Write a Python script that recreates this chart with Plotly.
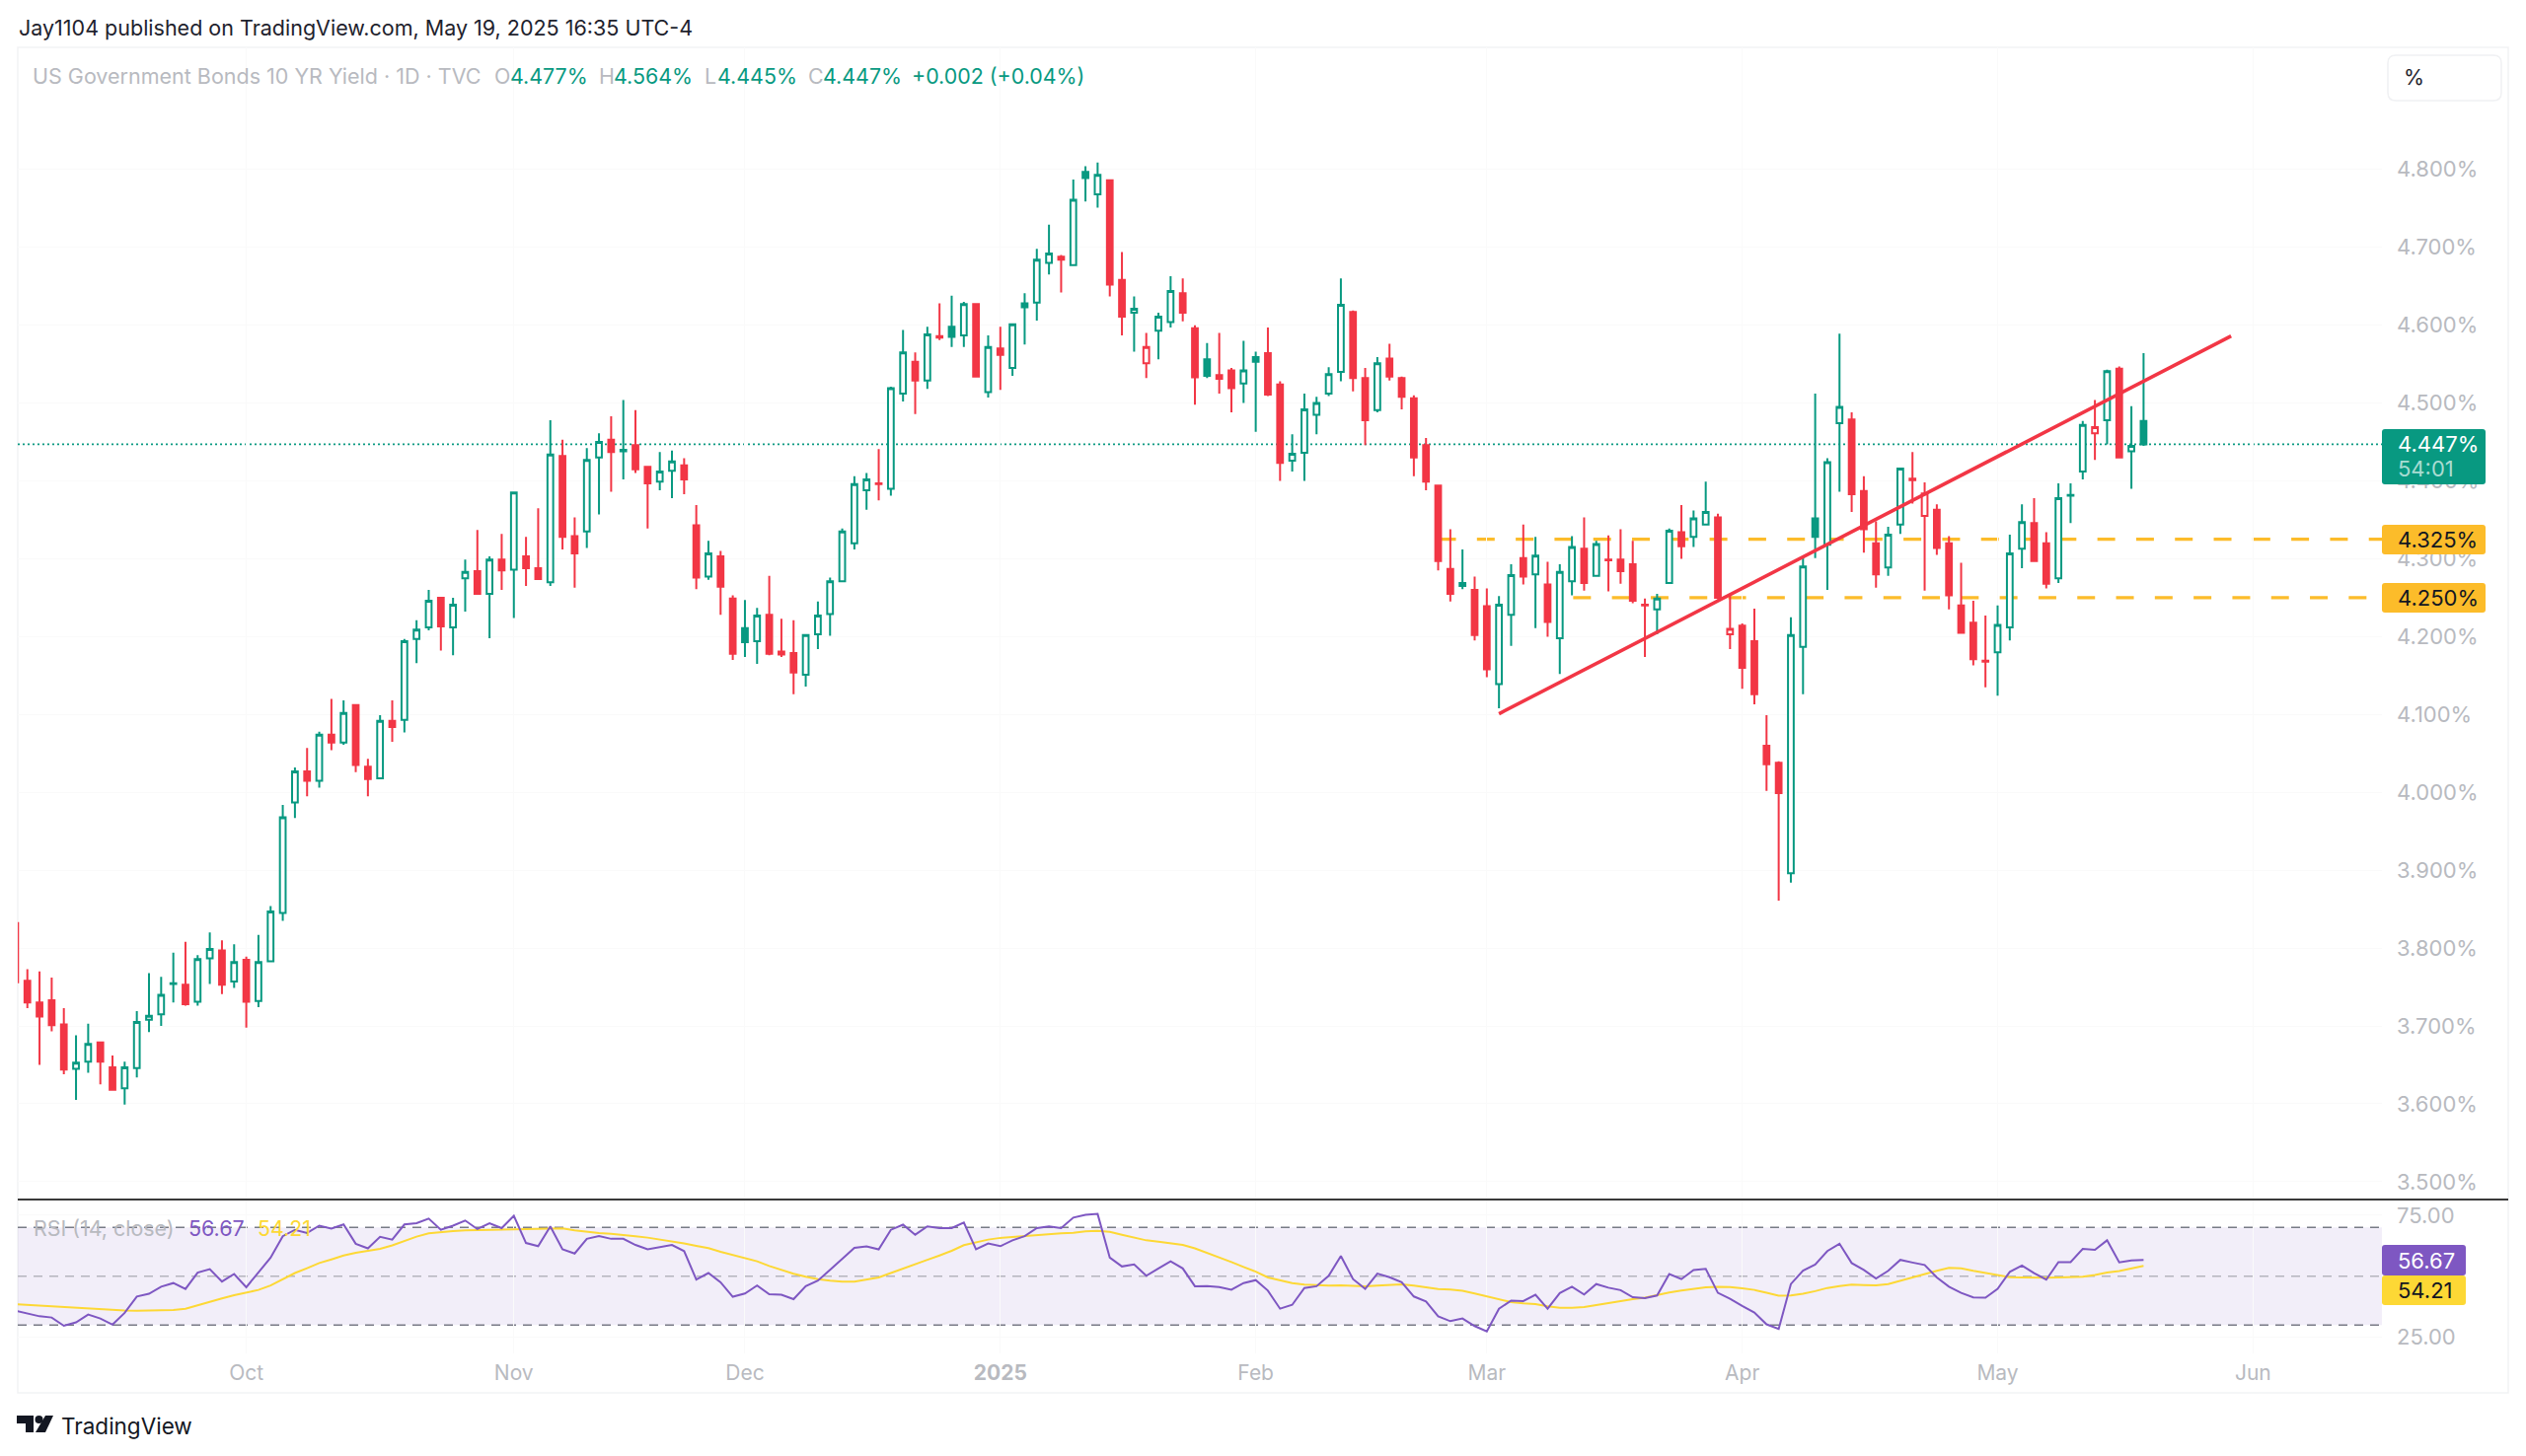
import numpy as np
import plotly.graph_objects as go

# US 10Y yield, daily candles (first one is cut by the left edge)
OPENS = [
    3.832,3.758,3.730,3.733,3.702,3.645,3.654,3.679,3.647,3.620,
    3.646,3.708,3.715,3.754,3.753,3.731,3.787,3.797,3.757,3.785,
    3.732,3.783,3.845,3.987,4.027,4.015,4.074,4.064,4.112,4.033,
    4.018,4.092,4.093,4.197,4.212,4.250,4.212,4.275,4.284,4.255,
    4.299,4.286,4.303,4.288,4.270,4.432,4.329,4.335,4.430,4.453,
    4.440,4.446,4.418,4.399,4.413,4.420,4.343,4.277,4.303,4.249,
    4.211,4.194,4.228,4.181,4.179,4.151,4.203,4.229,4.271,4.320,
    4.388,4.397,4.390,4.512,4.553,4.529,4.586,4.598,4.587,4.627,
    4.514,4.570,4.545,4.628,4.629,4.680,4.688,4.677,4.797,4.768,
    4.786,4.658,4.616,4.551,4.593,4.604,4.641,4.596,4.556,4.536,
    4.542,4.525,4.559,4.564,4.524,4.426,4.436,4.485,4.512,4.540,
    4.617,4.532,4.491,4.557,4.532,4.506,4.446,4.394,4.287,4.265,
    4.260,4.239,4.139,4.228,4.301,4.280,4.267,4.198,4.271,4.313,
    4.278,4.299,4.299,4.293,4.241,4.235,4.269,4.334,4.328,4.344,
    4.353,4.203,4.214,4.194,4.060,4.038,3.896,4.187,4.352,4.318,
    4.474,4.479,4.387,4.320,4.289,4.344,4.403,4.355,4.363,4.320,
    4.240,4.218,4.169,4.180,4.212,4.313,4.346,4.320,4.275,4.381,
    4.412,4.461,4.478,4.544,4.438,4.477,
]
HIGHS = [
    3.832,3.773,3.770,3.762,3.723,3.688,3.703,3.679,3.662,3.654,
    3.719,3.768,3.763,3.794,3.808,3.791,3.820,3.810,3.805,3.789,
    3.817,3.854,3.984,4.032,4.057,4.078,4.120,4.118,4.112,4.043,
    4.099,4.118,4.197,4.221,4.260,4.250,4.250,4.299,4.337,4.303,
    4.332,4.386,4.328,4.365,4.478,4.453,4.353,4.442,4.461,4.483,
    4.504,4.491,4.418,4.437,4.439,4.429,4.369,4.323,4.310,4.253,
    4.247,4.237,4.278,4.223,4.221,4.202,4.245,4.276,4.339,4.406,
    4.410,4.441,4.521,4.594,4.565,4.598,4.628,4.638,4.630,4.627,
    4.587,4.598,4.602,4.641,4.698,4.729,4.690,4.787,4.804,4.809,
    4.787,4.694,4.637,4.590,4.616,4.663,4.660,4.600,4.577,4.590,
    4.545,4.580,4.566,4.597,4.528,4.460,4.512,4.508,4.546,4.660,
    4.619,4.545,4.559,4.576,4.534,4.510,4.455,4.394,4.338,4.312,
    4.277,4.262,4.252,4.293,4.344,4.328,4.296,4.293,4.329,4.353,
    4.323,4.330,4.338,4.323,4.249,4.255,4.339,4.369,4.362,4.399,
    4.358,4.255,4.217,4.236,4.099,4.040,4.225,4.302,4.512,4.429,
    4.589,4.488,4.406,4.348,4.341,4.417,4.437,4.398,4.370,4.329,
    4.295,4.246,4.227,4.240,4.331,4.370,4.378,4.334,4.397,4.397,
    4.477,4.504,4.543,4.547,4.496,4.564,
]
LOWS = [
    3.756,3.723,3.650,3.693,3.638,3.605,3.640,3.625,3.618,3.599,
    3.634,3.692,3.700,3.730,3.726,3.726,3.754,3.741,3.749,3.698,
    3.724,3.783,3.835,3.967,3.995,4.006,4.054,4.061,4.026,3.995,
    4.018,4.065,4.077,4.166,4.208,4.182,4.176,4.232,4.255,4.198,
    4.260,4.224,4.265,4.274,4.265,4.312,4.263,4.314,4.357,4.386,
    4.402,4.410,4.339,4.388,4.378,4.383,4.261,4.273,4.228,4.170,
    4.174,4.165,4.176,4.174,4.126,4.136,4.184,4.201,4.270,4.312,
    4.363,4.375,4.381,4.502,4.486,4.518,4.581,4.572,4.572,4.534,
    4.507,4.517,4.535,4.575,4.606,4.665,4.642,4.677,4.759,4.751,
    4.637,4.587,4.566,4.532,4.556,4.597,4.605,4.498,4.532,4.512,
    4.488,4.500,4.463,4.509,4.400,4.412,4.400,4.460,4.509,4.528,
    4.515,4.446,4.488,4.529,4.492,4.406,4.388,4.285,4.245,4.261,
    4.195,4.148,4.108,4.188,4.267,4.211,4.200,4.152,4.253,4.259,
    4.278,4.258,4.268,4.243,4.174,4.203,4.269,4.300,4.315,4.343,
    4.248,4.184,4.133,4.113,4.002,3.861,3.884,4.126,4.301,4.260,
    4.386,4.360,4.308,4.263,4.278,4.332,4.371,4.259,4.305,4.235,
    4.204,4.163,4.135,4.124,4.195,4.288,4.297,4.262,4.269,4.346,
    4.402,4.427,4.447,4.430,4.390,4.445,
]
CLOSES = [
    3.756,3.730,3.712,3.701,3.644,3.653,3.677,3.654,3.618,3.647,
    3.705,3.713,3.740,3.755,3.728,3.786,3.799,3.753,3.782,3.731,
    3.782,3.847,3.968,4.027,4.015,4.074,4.064,4.102,4.035,4.017,
    4.092,4.084,4.194,4.209,4.246,4.213,4.241,4.283,4.255,4.299,
    4.285,4.385,4.288,4.274,4.434,4.328,4.307,4.427,4.450,4.437,
    4.438,4.415,4.397,4.412,4.425,4.402,4.276,4.307,4.264,4.178,
    4.193,4.227,4.178,4.177,4.154,4.202,4.227,4.271,4.335,4.396,
    4.402,4.396,4.519,4.565,4.529,4.588,4.584,4.585,4.627,4.534,
    4.572,4.562,4.601,4.623,4.684,4.692,4.684,4.761,4.789,4.793,
    4.652,4.611,4.621,4.572,4.611,4.644,4.616,4.533,4.535,4.531,
    4.519,4.542,4.553,4.511,4.423,4.435,4.492,4.500,4.537,4.626,
    4.532,4.478,4.551,4.534,4.508,4.430,4.399,4.297,4.255,4.269,
    4.202,4.158,4.241,4.279,4.277,4.304,4.219,4.283,4.315,4.269,
    4.319,4.298,4.284,4.246,4.240,4.249,4.336,4.316,4.352,4.360,
    4.250,4.210,4.160,4.126,4.036,3.999,4.202,4.290,4.328,4.424,
    4.495,4.383,4.338,4.280,4.331,4.416,4.401,4.384,4.314,4.253,
    4.205,4.171,4.168,4.215,4.307,4.347,4.297,4.268,4.378,4.382,
    4.472,4.469,4.541,4.430,4.445,4.447,
]

# RSI(14) and its moving average, one value per candle
RSI = [
    35.9,34.7,33.6,33.1,29.7,31.1,34.3,32.7,30.2,35.0,
    41.7,42.8,45.7,47.2,44.8,51.5,52.9,47.8,50.9,45.5,
    51.5,57.6,66.4,69.0,67.7,70.7,69.5,71.2,63.3,61.4,
    66.1,65.0,71.2,71.7,73.6,69.0,70.7,72.8,69.3,71.7,
    69.7,74.7,63.6,62.3,70.4,61.0,59.3,65.3,66.4,65.3,
    65.3,62.8,61.0,62.0,62.8,60.3,48.6,51.3,47.5,41.6,
    42.9,46.2,42.6,42.4,40.6,45.9,48.2,52.6,57.2,61.6,
    62.2,61.0,69.0,71.1,67.0,70.4,69.7,69.7,72.0,61.0,
    63.4,62.3,64.7,66.4,69.7,70.4,69.7,74.0,75.1,75.5,
    57.6,54.0,54.8,50.2,53.2,56.1,53.2,45.9,46.0,45.6,
    44.5,47.2,48.4,44.1,36.7,38.3,45.2,45.9,50.2,58.3,
    48.8,44.8,51.1,49.6,47.5,41.7,39.7,33.6,31.6,32.7,
    29.6,27.4,36.7,40.0,39.8,42.4,36.7,43.1,45.7,42.5,
    46.8,45.3,44.3,41.4,41.0,42.1,50.9,48.8,52.5,53.0,
    43.2,40.8,37.8,35.1,30.3,28.4,46.8,52.3,54.8,60.3,
    63.3,55.4,52.6,49.1,52.2,56.7,55.6,54.6,49.5,45.7,
    43.2,41.3,41.2,44.8,51.8,54.4,51.3,48.6,55.8,55.8,
    61.2,60.8,64.7,55.7,56.5,56.67,
]
RSI_MA = [
    38.6,38.3,37.9,37.7,37.4,37.1,37.0,36.7,36.2,36.0,
    35.9,35.9,35.9,36.2,36.7,38.2,39.4,40.9,42.2,43.2,
    44.4,46.2,48.7,51.3,53.3,55.4,56.9,58.5,59.6,60.3,
    61.2,62.6,64.5,66.2,67.6,68.2,68.5,68.8,68.9,69.0,
    69.0,69.2,69.3,69.3,69.6,69.6,68.8,68.1,67.7,67.4,
    67.0,66.4,65.8,65.0,64.5,63.4,62.4,61.5,60.0,58.7,
    57.5,56.1,54.2,52.5,51.0,49.8,48.8,48.2,47.8,47.8,
    48.6,49.5,51.3,53.2,54.9,56.7,58.5,60.4,62.7,63.9,
    65.0,65.7,66.1,66.4,67.0,67.4,67.6,67.8,68.4,68.6,
    68.2,67.0,65.7,64.7,64.1,63.5,62.8,61.4,59.6,57.7,
    55.8,53.8,51.9,49.5,48.2,47.2,46.6,46.3,46.2,46.3,
    46.2,45.9,46.2,46.4,46.7,46.2,45.5,44.8,44.5,44.0,
    42.9,41.7,40.5,39.4,38.9,38.6,37.7,37.1,37.1,37.4,
    38.2,39.1,40.0,40.6,41.2,42.4,43.3,44.1,44.8,45.5,
    45.7,45.6,45.1,44.4,43.2,42.0,42.1,42.8,43.9,45.2,
    46.0,46.6,46.4,46.3,46.8,48.2,49.5,50.9,52.2,53.4,
    53.2,52.2,51.3,50.3,49.6,49.5,49.4,49.4,49.5,49.5,
    49.8,50.5,51.5,52.1,53.2,54.21,
]

MONTH_POS = [19, 41, 60, 81, 102, 121, 142, 163, 184]
MONTH_LABELS = ["Oct", "Nov", "Dec", "<b>2025</b>", "Feb", "Mar", "Apr", "May", "Jun"]
PRICE_TICKS = [3.5, 3.6, 3.7, 3.8, 3.9, 4.0, 4.1, 4.2, 4.3, 4.4, 4.5, 4.6, 4.7, 4.8]
PRICE_LABELS = ["3.500%", "3.600%", "3.700%", "3.800%", "3.900%", "4.000%", "4.100%",
                "4.200%", "4.300%", "4.400%", "4.500%", "4.600%", "4.700%", "4.800%"]
RSI_TICKS = [25, 75]
RSI_LABELS = ["25.00", "75.00"]

LAST_PRICE = 4.447
LEVEL_HIGH = 4.325
LEVEL_LOW = 4.25
TREND_X = [122, 182.2]
TREND_Y = [4.101, 4.586]

GREEN = "#089981"
RED = "#f23645"
YELLOW = "#fcbc2a"
PURPLE = "#7e57c2"
MA_YELLOW = "#fdd835"
GREY = "#b8bac0"
FONT = "Inter"

W, H = 2560, 1476
PLOT_L, PLOT_R = 18, 2414
PANE_T, PANE_M, PANE_B = 48, 1216, 1372


def px(x):
    return x / W


def py(y):
    return 1 - y / H


def label(x, y, text, color=GREY, size=21.4):
    return dict(
        x=px(x), y=py(y), xref="paper", yref="paper", text=text, showarrow=False,
        xanchor="left", yanchor="middle", align="left",
        font=dict(family=FONT, size=size, color=color),
    )


def box(x0, y0, x1, y1, fill, line="rgba(0,0,0,0)", r=3):
    # rounded tag drawn as a path in paper coordinates
    a, b = px(x0), px(x1)
    c, d = py(y0), py(y1)
    rx, ry = r / W, r / H
    path = (f"M {a+rx},{c} L {b-rx},{c} Q {b},{c} {b},{c-ry} L {b},{d+ry} Q {b},{d} {b-rx},{d} "
            f"L {a+rx},{d} Q {a},{d} {a},{d+ry} L {a},{c-ry} Q {a},{c} {a+rx},{c} Z")
    return dict(type="path", xref="paper", yref="paper", path=path,
                fillcolor=fill, line=dict(color=line, width=1.5), layer="above")


def level(x0, x1, y, color, dash, width, yref="y"):
    return dict(
        type="line", xref="x", yref=yref, x0=x0, x1=x1, y0=y, y1=y,
        line=dict(color=color, dash=dash, width=width), layer="below",
    )


opens = np.array(OPENS)
closes = np.array(CLOSES)
highs = np.array(HIGHS)
lows = np.array(LOWS)
idx = np.arange(len(opens))
prev_close = np.concatenate([[opens[0]], closes[:-1]])

# hollow candles: fill follows open/close, colour follows the previous close
hollow = closes > opens
rising = closes >= prev_close

fig = go.Figure()

for is_hollow, is_rising in [(True, True), (True, False), (False, True), (False, False)]:
    mask = (hollow == is_hollow) & (rising == is_rising)
    color = GREEN if is_rising else RED
    style = dict(line=dict(color=color, width=2), fillcolor="#ffffff" if is_hollow else color)
    fig.add_trace(go.Candlestick(
        x=idx[mask], open=opens[mask], high=highs[mask], low=lows[mask], close=closes[mask],
        increasing=style, decreasing=style, whiskerwidth=0, hoverinfo="skip", showlegend=False,
    ))

# trend line sits on top of the candles
fig.add_trace(go.Scatter(
    x=TREND_X, y=TREND_Y, mode="lines", line=dict(color=RED, width=3.6),
    hoverinfo="skip", showlegend=False,
))

# RSI pane
fig.add_trace(go.Scatter(
    x=idx, y=RSI_MA, yaxis="y2", mode="lines", line=dict(color=MA_YELLOW, width=2),
    hoverinfo="skip", showlegend=False,
))
fig.add_trace(go.Scatter(
    x=idx, y=RSI, yaxis="y2", mode="lines", line=dict(color=PURPLE, width=2),
    hoverinfo="skip", showlegend=False,
))

x_start, x_end = 0.21, 194.6
shapes = [
    dict(type="rect", xref="paper", yref="paper", x0=px(18), x1=px(2542), y0=py(48), y1=py(1412),
         line=dict(color="#f2f3f5", width=1.5), layer="below"),
    dict(type="rect", xref="x", yref="y2", x0=x_start, x1=x_end, y0=30, y1=70,
         fillcolor="rgba(126,87,194,0.1)", line=dict(width=0), layer="below"),
    level(x_start, x_end, 70, "#787b86", "9px,7px", 1.6, "y2"),
    level(x_start, x_end, 50, "#b5b5bd", "9px,7px", 1.6, "y2"),
    level(x_start, x_end, 30, "#787b86", "9px,7px", 1.6, "y2"),
    level(x_start, x_end, LAST_PRICE, GREEN, "2px,3px", 1.8),
    level(117.0, x_end, LEVEL_HIGH, YELLOW, "18px,21.3px", 3.3),
    level(128.1, x_end, LEVEL_LOW, YELLOW, "18px,21.3px", 3.3),
    # pane divider
    dict(type="line", xref="paper", yref="paper", x0=px(18), x1=px(2542), y0=py(1216), y1=py(1216),
         line=dict(color="#3a3a3a", width=2), layer="above"),
    # scale tags
    box(2420, 56, 2535, 102, "#ffffff", "#f0f1f3", 8),
    box(2414, 435, 2519, 491, GREEN),
    box(2414, 532, 2519, 562, YELLOW),
    box(2414, 591, 2519, 621, YELLOW),
    box(2414, 1262, 2499, 1293, PURPLE),
    box(2414, 1293, 2499, 1323, MA_YELLOW),
]

# TradingView mark, built from simple shapes
def logo_path(points):
    return "M " + " L ".join(f"{px(x):.5f},{py(y):.5f}" for x, y in points) + " Z"

for pts in [
    [(17, 1435), (34, 1435), (34, 1452), (26, 1452), (26, 1443), (17, 1443)],
    [(46, 1435), (54, 1435), (46, 1452), (36, 1452)],
]:
    shapes.append(dict(type="path", xref="paper", yref="paper", path=logo_path(pts),
                       fillcolor="#131722", line=dict(width=0), layer="above"))
shapes.append(dict(type="circle", xref="paper", yref="paper", x0=px(35.5), x1=px(43.5),
                   y0=py(1443), y1=py(1435), fillcolor="#131722", line=dict(width=0), layer="above"))

annotations = [
    label(17, 28, "Jay1104 published on TradingView.com, May 19, 2025 16:35 UTC-4", "#1e222d", 21.5),
    label(31, 77, "US Government Bonds 10 YR Yield · 1D · TVC", GREY, 21.5),
    label(499, 77, "O"), label(515, 77, "4.477%", GREEN),
    label(605, 77, "H"), label(620, 77, "4.564%", GREEN),
    label(712, 77, "L"), label(725, 77, "4.445%", GREEN),
    label(817, 77, "C"), label(832, 77, "4.447%", GREEN),
    label(922, 77, "+0.002 (+0.04%)", GREEN),
    label(2434, 78, "%", "#1e222d"),
    label(2428, 450, "4.447%", "#ffffff", 22),
    label(2428, 475, "54:01", "#a9dcd2", 22),
    label(2428, 547, "4.325%", "#131722", 22),
    label(2428, 606, "4.250%", "#131722", 22),
    label(32, 1245, "RSI (14, close)"),
    label(189, 1245, "56.67", PURPLE),
    label(259, 1245, "54.21", MA_YELLOW),
    label(2428, 1278, "56.67", "#ffffff", 22),
    label(2428, 1308, "54.21", "#131722", 22),
    label(60, 1445, "TradingView", "#131722", 22.5),
]

fig.update_layout(
    width=W, height=H, margin=dict(l=0, r=0, t=0, b=0),
    paper_bgcolor="#ffffff", plot_bgcolor="#ffffff",
    font=dict(family=FONT, color=GREY, size=22),
    showlegend=False, shapes=shapes, annotations=annotations, boxgap=0.33,
    xaxis=dict(
        domain=[px(PLOT_L), px(PLOT_R)], range=[x_start, x_end], anchor="y2",
        tickvals=MONTH_POS, ticktext=MONTH_LABELS, tickfont=dict(size=21, color=GREY),
        showgrid=True, gridcolor="#fafafa", zeroline=False, showline=False, ticks="",
        ticklabelstandoff=5, rangeslider=dict(visible=False),
    ),
    yaxis=dict(
        domain=[py(PANE_M), py(PANE_T)], range=[3.4771, 4.9568], side="right", anchor="x",
        tickvals=PRICE_TICKS, ticktext=PRICE_LABELS, tickfont=dict(size=22, color=GREY),
        showgrid=True, gridcolor="#fafafa", zeroline=False, showline=False, ticks="",
        ticklabelstandoff=14,
    ),
    yaxis2=dict(
        domain=[py(PANE_B), py(PANE_M)], range=[18.4, 81.4], side="right", anchor="x",
        tickvals=RSI_TICKS, ticktext=RSI_LABELS, tickfont=dict(size=22, color=GREY),
        showgrid=True, gridcolor="#fafafa", zeroline=False, showline=False, ticks="",
        ticklabelstandoff=14,
    ),
)

fig.write_html("out.html", config={"displayModeBar": False},
               post_script="document.body.style.margin='0';")
